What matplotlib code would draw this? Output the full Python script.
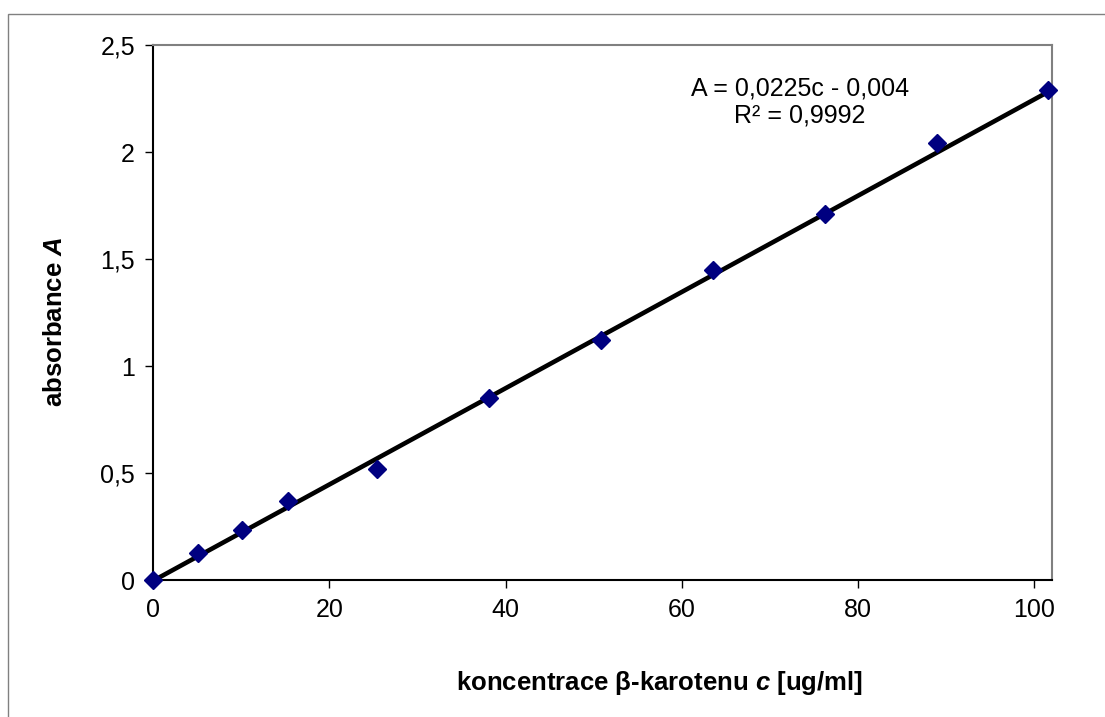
import matplotlib.pyplot as plt
from matplotlib.ticker import FuncFormatter
from matplotlib.patches import Rectangle
import numpy as np

# koncentrace beta-karotenu [ug/ml] a absorbance
conc = [0, 5.1, 10.1, 15.3, 25.4, 38.1, 50.8, 63.5, 76.2, 88.9, 101.6]
absorb = [0.0, 0.128, 0.234, 0.369, 0.519, 0.850, 1.121, 1.449, 1.710, 2.042, 2.290]
slope = 0.0225
intercept = -0.004
eq_text = "A = 0,0225c - 0,004\nR² = 0,9992"

plt.rcParams['font.family'] = ['Liberation Sans', 'DejaVu Sans']
plt.rcParams['mathtext.fontset'] = 'custom'
plt.rcParams['mathtext.bfit'] = 'Liberation Sans:italic:bold'
plt.rcParams['mathtext.it'] = 'Liberation Sans:italic'
plt.rcParams['mathtext.rm'] = 'Liberation Sans'

fig = plt.figure(figsize=(11.05, 7.17), dpi=100)
# outer chart frame
fig.patches.append(Rectangle((8 / 1105, -0.01), 1.1, 1 - 14 / 717 + 0.01,
                             transform=fig.transFigure, fill=False,
                             edgecolor='#808080', linewidth=1))

ax = fig.add_axes([153 / 1105, 1 - 580 / 717, (1052 - 153) / 1105, (580 - 45) / 717])

# trendline
xl = np.array([0, conc[-1]])
ax.plot(xl, slope * xl + intercept, color='black', linewidth=3.3, zorder=2)
ax.plot(conc, absorb, linestyle='none', marker='D', markersize=9.5,
        color='#000080', zorder=3, clip_on=False)

ax.set_xlim(0, 102)
ax.set_ylim(0, 2.5)
ax.set_xticks([0, 20, 40, 60, 80, 100])
ax.set_yticks([0, 0.5, 1, 1.5, 2, 2.5])
ax.yaxis.set_major_formatter(FuncFormatter(lambda v, p: f"{v:g}".replace('.', ',')))
ax.tick_params(direction='out', length=6, width=1, labelsize=18, pad=7)

for s in ['top', 'right']:
    ax.spines[s].set_color('#808080')
    ax.spines[s].set_linewidth(1.5)
for s in ['left', 'bottom']:
    ax.spines[s].set_color('black')
    ax.spines[s].set_linewidth(1.5)

ax.text((800 - 153) / 899, (580 - 102) / 535, eq_text, transform=ax.transAxes,
        ha='center', va='center', fontsize=18, linespacing=1.2)

ax.set_xlabel(r"koncentrace β-karotenu $\mathbfit{c}$ [ug/ml]", fontsize=18.5,
              fontweight='bold', va='center')
ax.xaxis.set_label_coords((660 - 153) / 899, (580 - 683) / 535)
ax.set_ylabel(r"absorbance $\mathbfit{A}$", fontsize=18.5, fontweight='bold', va='center')
ax.yaxis.set_label_coords((55 - 153) / 899, (580 - 322) / 535)

plt.savefig('out.png', dpi=100)
